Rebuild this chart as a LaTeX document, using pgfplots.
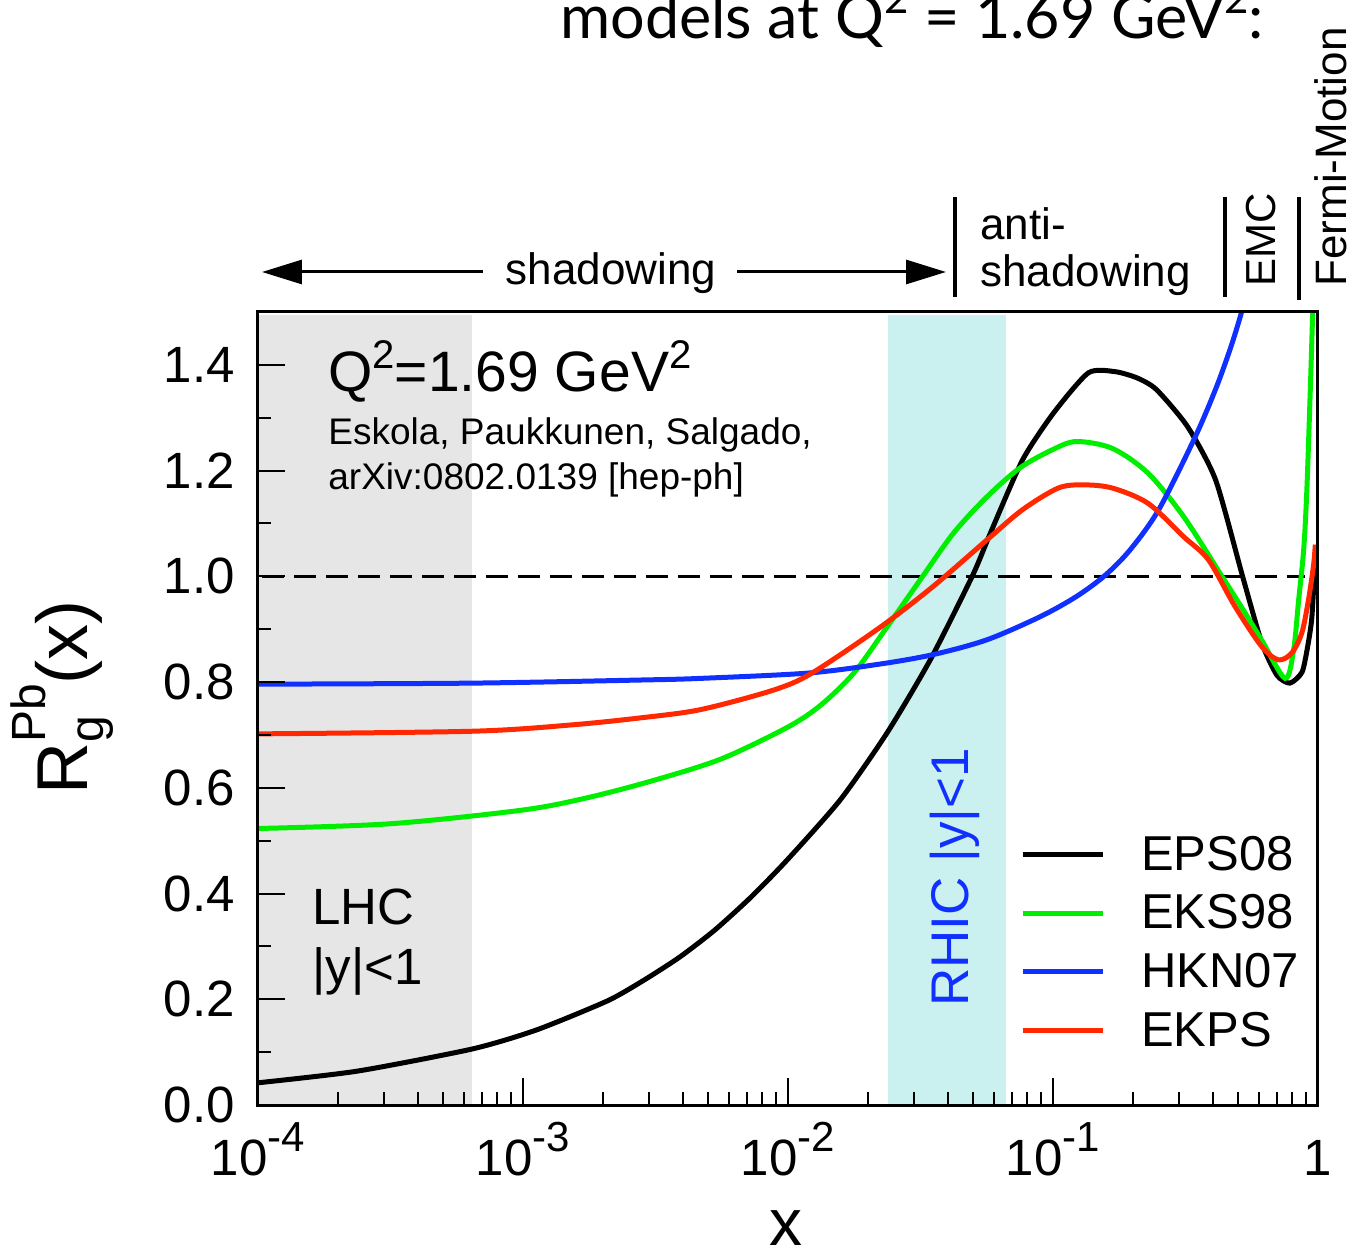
\documentclass[border=0pt]{standalone}
\usepackage{fontspec}
\setmainfont{Liberation Sans}
\newfontfamily\titlefont{Lato}
\usepackage{amsmath}
\usepackage{pgfplots}
\pgfplotsset{compat=1.18}
\usetikzlibrary{arrows.meta}
\definecolor{cgreen}{RGB}{0,238,0}
\definecolor{cblue}{RGB}{16,48,255}
\definecolor{cred}{RGB}{255,40,0}
\definecolor{cgray}{RGB}{230,230,230}
\definecolor{ccyan}{RGB}{203,240,240}
\newcommand{\fs}[1]{\fontsize{#1}{#1}\selectfont}
\newcommand{\tp}[1]{10\raisebox{12pt}{\fs{21pt}#1}}
\newcommand{\sq}{\raisebox{0.42em}{\fs{20pt}2}}
\begin{document}
\begin{tikzpicture}
\begin{axis}[
  at={(0,0)}, anchor=south west,
  scale only axis, width=530pt, height=396.5pt,
  xmode=log, xmin=1e-4, xmax=1, ymin=0, ymax=1.5,
  axis on top,
  axis line style={line width=1.5pt},
  xtick={1e-4,1e-3,1e-2,1e-1,1},
  xticklabels={\tp{-4},\tp{-3},\tp{-2},\tp{-1},1},
  minor xtick={2e-4,3e-4,4e-4,5e-4,6e-4,7e-4,8e-4,9e-4,2e-3,3e-3,4e-3,5e-3,6e-3,7e-3,8e-3,9e-3,2e-2,3e-2,4e-2,5e-2,6e-2,7e-2,8e-2,9e-2,0.2,0.3,0.4,0.5,0.6,0.7,0.8,0.9},
  ytick={0,0.2,0.4,0.6,0.8,1.0,1.2,1.4},
  yticklabels={0.0,0.2,0.4,0.6,0.8,1.0,1.2,1.4},
  minor ytick={0.1,0.3,0.5,0.7,0.9,1.1,1.3},
  tick pos=left, tick align=inside,
  major tick length=13.5pt, minor tick length=6.5pt,
  every tick/.style={line width=1pt, black},
  tick label style={font=\fs{25.5pt}, inner sep=0pt},
  yticklabel style={xshift=-11.5pt},
  xticklabel style={anchor=base, yshift=-35pt},
  xlabel={x},
  xlabel style={at={(axis description cs:0.498,-0.1775)}, anchor=base, font=\fs{33pt}, inner sep=0pt},
  ylabel={R\rlap{\raisebox{-8pt}{\fs{24pt}g}}\raisebox{21pt}{\fs{24pt}Pb}(x)},
  ylabel style={at={(axis description cs:-0.1604,0.5139)}, anchor=base, font=\fs{36pt}, inner sep=0pt},
  legend style={at={(0.7185,0.3398)}, anchor=north west, draw=none, fill=none,
    font=\fs{24.5pt}, row sep=10.75pt, column sep=18pt, inner sep=0pt, nodes={inner sep=0pt}},
  legend cell align=left,
  legend image code/.code={\draw[#1, line width=2.5pt] (0pt,0pt) -- (40pt,0pt);},
]
\addplot[fill=cgray, draw=none, forget plot] coordinates {(1e-4,1.495) (6.44e-4,1.495)} \closedcycle;
\addplot[fill=ccyan, draw=none, forget plot] coordinates {(0.0239,1.495) (0.0667,1.495)} \closedcycle;
\addplot[black, line width=1.25pt, dash pattern=on 11pt off 5pt, forget plot] coordinates {(1.04e-4,1) (0.895,1)};

\addplot[black, line width=2.5pt, smooth, tension=0.4] coordinates {
(1e-4,0.042) (2.366e-4,0.064) (6.44e-4,0.106) (1.125e-3,0.142) (2.084e-3,0.197) (2.858e-3,0.236) (3.908e-3,0.280) (5.297e-3,0.331) (7.244e-3,0.393) (9.908e-3,0.463) (1.574e-2,0.577) (2.366e-2,0.704) (3.443e-2,0.842) (4.966e-2,1.001) (5.808e-2,1.082) (7.674e-2,1.220) (0.1005,1.309) (0.1361,1.385) (0.1722,1.387) (0.2084,1.375) (0.2460,1.353) (0.3221,1.283) (0.4111,1.182) (0.5200,0.999) (0.6138,0.874) (0.6998,0.813) (0.7834,0.798) (0.8710,0.819) (0.9162,0.870) (0.9484,0.923) (0.9750,1.031)};
\addplot[cgreen, line width=2.5pt, smooth, tension=0.5] coordinates {
(1e-4,0.523) (3.162e-4,0.532) (1e-3,0.558) (1.778e-3,0.582) (3.162e-3,0.615) (5.623e-3,0.655) (1e-2,0.715) (1.334e-2,0.757) (1.778e-2,0.818) (2.371e-2,0.905) (3.162e-2,0.994) (4.217e-2,1.082) (5.623e-2,1.150) (7.499e-2,1.205) (0.1,1.240) (0.1227,1.255) (0.1675,1.242) (0.2286,1.195) (0.3112,1.113) (0.4266,1.006) (0.5200,0.938) (0.6138,0.879) (0.7516,0.807) (0.8091,0.861) (0.8453,0.955) (0.8831,1.050) (0.9078,1.163) (0.9354,1.353) (0.9550,1.50) (0.9727,1.65)};
\addplot[cblue, line width=2.5pt, smooth, tension=0.5] coordinates {
(1e-4,0.796) (6.457e-4,0.798) (2.858e-3,0.804) (4.688e-3,0.807) (1.191e-2,0.817) (2.218e-2,0.834) (3.532e-2,0.852) (5.636e-2,0.880) (8.974e-2,0.924) (0.1227,0.962) (0.1574,1.002) (0.1954,1.050) (0.2506,1.126) (0.3428,1.262) (0.4130,1.357) (0.4677,1.432) (0.5082,1.490) (0.5370,1.535)};
\addplot[cred, line width=2.5pt, smooth, tension=0.5] coordinates {
(1e-4,0.702) (6.457e-4,0.707) (1.528e-3,0.719) (2.858e-3,0.733) (4.688e-3,0.748) (8.710e-3,0.784) (1.222e-2,0.816) (2.218e-2,0.903) (3.532e-2,0.981) (5.636e-2,1.069) (7.674e-2,1.126) (0.1047,1.167) (0.1303,1.173) (0.1675,1.167) (0.2286,1.138) (0.3112,1.075) (0.3864,1.031) (0.4864,0.943) (0.6138,0.867) (0.7096,0.842) (0.7962,0.855) (0.8690,0.893) (0.9204,0.955) (0.9616,1.020) (0.9772,1.060)};
\legend{EPS08,EKS98,HKN07,EKPS}
\end{axis}
% texts inside the frame
\node[anchor=base west, inner sep=0pt, font=\fs{28.5pt}] at (35pt,356.5pt) {Q\sq=1.69 GeV\sq};
\node[anchor=base west, inner sep=0pt, font=\fs{18.5pt}] at (35pt,330pt) {Eskola, Paukkunen, Salgado,};
\node[anchor=base west, inner sep=0pt, font=\fs{18.5pt}] at (35pt,307.5pt) {arXiv:0802.0139 [hep-ph]};
\node[anchor=base west, inner sep=0pt, font=\fs{25.5pt}] at (27pt,90pt) {LHC};
\node[anchor=base west, inner sep=0pt, font=\fs{25.5pt}] at (27pt,60pt) {|y|<1};
\node[anchor=base west, inner sep=0pt, rotate=90, font=\fs{26.5pt}, text=cblue] at (355pt,49pt) {RHIC |y|<1};
% texts above the frame
\node[anchor=base west, inner sep=0pt, font=\titlefont\fs{30.5pt}] at (151pt,533pt) {models at Q\raisebox{0.42em}{\fs{21pt}2} = 1.69 GeV\raisebox{0.42em}{\fs{21pt}2}:};
\draw[line width=1.5pt, -{Triangle[length=20pt,width=12pt]}] (112.5pt,416.5pt) -- (2pt,416.5pt);
\draw[line width=1.5pt, -{Triangle[length=20pt,width=12pt]}] (239.5pt,416.5pt) -- (344pt,416.5pt);
\node[anchor=base, inner sep=0pt, font=\fs{22pt}] at (176.5pt,410pt) {shadowing};
\draw[line width=2pt] (348.5pt,454pt) -- (348.5pt,404pt);
\draw[line width=2pt] (483.5pt,454pt) -- (483.5pt,404pt);
\draw[line width=2pt] (520.5pt,454pt) -- (520.5pt,402.5pt);
\node[anchor=base west, inner sep=0pt, font=\fs{22pt}] at (361pt,432.5pt) {anti-};
\node[anchor=base west, inner sep=0pt, font=\fs{22pt}] at (361pt,409pt) {shadowing};
\node[anchor=base west, inner sep=0pt, rotate=90, font=\fs{21pt}] at (508.5pt,409pt) {EMC};
\node[anchor=base west, inner sep=0pt, rotate=90, font=\fs{22pt}] at (544pt,409pt) {Fermi-Motion};
\pgfresetboundingbox
\useasboundingbox (-129pt,-74.5pt) rectangle (549pt,552.5pt);
\end{tikzpicture}
\end{document}
